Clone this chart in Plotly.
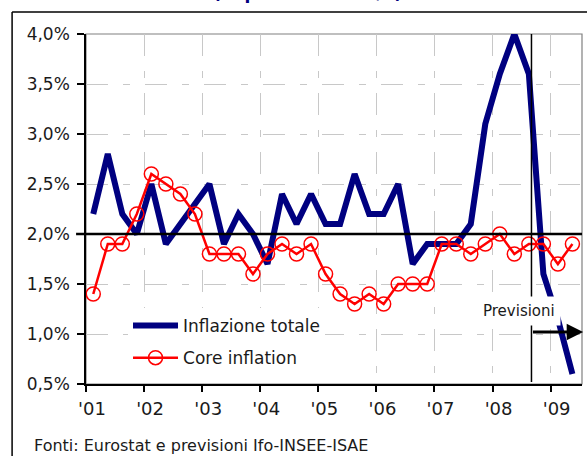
import plotly.graph_objects as go

# ---- data (quarterly, 2001Q1 .. 2009Q2) ----
years = [2001, 2002, 2003, 2004, 2005, 2006, 2007, 2008, 2009]
quarters_per_year = [4, 4, 4, 4, 4, 4, 4, 4, 2]

inflazione_totale = [
    2.2, 2.8, 2.2, 2.0,
    2.5, 1.9, 2.1, 2.3,
    2.5, 1.9, 2.2, 2.0,
    1.7, 2.4, 2.1, 2.4,
    2.1, 2.1, 2.6, 2.2,
    2.2, 2.5, 1.7, 1.9,
    1.9, 1.9, 2.1, 3.1,
    3.6, 4.0, 3.6, 1.6,
    1.15, 0.6,
]
core_inflation = [
    1.4, 1.9, 1.9, 2.2,
    2.6, 2.5, 2.4, 2.2,
    1.8, 1.8, 1.8, 1.6,
    1.8, 1.9, 1.8, 1.9,
    1.6, 1.4, 1.3, 1.4,
    1.3, 1.5, 1.5, 1.5,
    1.9, 1.9, 1.8, 1.9,
    2.0, 1.8, 1.9, 1.9,
    1.7, 1.9,
]

x_tick_vals = [2001, 2002, 2003, 2004, 2005, 2006, 2007, 2008, 2009]
x_tick_text = ["'01", "'02", "'03", "'04", "'05", "'06", "'07", "'08", "'09"]
y_tick_vals = [0.5, 1.0, 1.5, 2.0, 2.5, 3.0, 3.5, 4.0]
y_tick_text = ["0,5%", "1,0%", "1,5%", "2,0%", "2,5%", "3,0%", "3,5%", "4,0%"]

reference_level = 2.0
forecast_start = 2008.67
arrow_level = 1.02

# quarter mid-points on a numeric year axis
x_q = []
for y, n in zip(years, quarters_per_year):
    for q in range(1, n + 1):
        x_q.append(y + (q - 0.5) / 4)

FONT = "DejaVu Sans"
NAVY = "#000080"
RED = "#FF0000"

fig = go.Figure()
fig.add_trace(go.Scatter(
    x=x_q, y=inflazione_totale, mode="lines", name="Inflazione totale",
    line=dict(color=NAVY, width=6), cliponaxis=False, legendgroup="a",
))
fig.add_trace(go.Scatter(
    x=x_q, y=core_inflation, mode="lines+markers", name="Core inflation",
    line=dict(color=RED, width=2.5),
    marker=dict(symbol="circle-open", size=14, color=RED, line=dict(width=1.5, color=RED)),
    legendgroup="b",
))

grid_dash = "22px,15px,7px,15px"
fig.update_xaxes(
    range=[2001, 2009.54], tickvals=x_tick_vals, ticktext=x_tick_text,
    showgrid=True, gridcolor="#C8C8C8", gridwidth=1, griddash=grid_dash,
    showline=True, linecolor="black", linewidth=1.5,
    ticks="outside", ticklen=6, tickcolor="black", tickwidth=1.5,
    ticklabelshift=6, ticklabelstandoff=2,
    tickfont=dict(family=FONT, size=18, color="#1a1a1a"), zeroline=False,
)
fig.update_yaxes(
    range=[0.5, 4.0], tickvals=y_tick_vals, ticktext=y_tick_text,
    showgrid=True, gridcolor="#C8C8C8", gridwidth=1, griddash=grid_dash,
    showline=True, linecolor="black", linewidth=1.5,
    ticks="outside", ticklen=7, tickcolor="black", tickwidth=1.5,
    ticklabelstandoff=4,
    tickfont=dict(family=FONT, size=17, color="#1a1a1a"), zeroline=False,
)

shapes = [
    # plot-area border (gray)
    dict(type="rect", xref="paper", yref="paper", x0=0, x1=1, y0=0, y1=1,
         line=dict(color="#808080", width=1.2), layer="below"),
    # 2% reference line
    dict(type="line", xref="paper", yref="y", x0=-0.02, x1=1, y0=reference_level, y1=reference_level,
         line=dict(color="black", width=2.5)),
    # forecast start vertical
    dict(type="line", xref="x", yref="y", x0=forecast_start, x1=forecast_start, y0=0.52, y1=4.0,
         line=dict(color="black", width=1.5)),
    # outer frame (top and left)
    dict(type="line", xref="paper", yref="paper", x0=-0.149, x1=1.02, y0=1.0629, y1=1.0629,
         line=dict(color="black", width=1.5)),
    dict(type="line", xref="paper", yref="paper", x0=-0.149, x1=-0.149, y0=1.0629, y1=-0.25,
         line=dict(color="black", width=1.5)),
]

annotations = [
    dict(text="(in percentuale a/a)", xref="paper", yref="paper", x=0.4468, y=1.083,
         xanchor="center", yanchor="bottom", showarrow=False,
         font=dict(family=FONT, size=17, color=NAVY, weight="bold")),
    dict(text="Previsioni", xref="x", yref="y", x=2008.46, y=1.23,
         xanchor="center", yanchor="middle", showarrow=False, bgcolor="white", borderpad=5,
         font=dict(family=FONT, size=15, color="#1a1a1a")),
    dict(text="", xref="x", yref="y", x=2009.56, y=arrow_level,
         axref="x", ayref="y", ax=forecast_start, ay=arrow_level,
         showarrow=True, arrowhead=2, arrowsize=1.1, arrowwidth=3, arrowcolor="black"),
    dict(text="Fonti: Eurostat e previsioni Ifo-INSEE-ISAE", xref="paper", yref="paper",
         x=-0.1083, y=-0.1763, xanchor="left", yanchor="middle", showarrow=False,
         font=dict(family=FONT, size=16, color="#1a1a1a")),
]

fig.update_layout(
    width=587, height=456,
    margin=dict(l=86, r=5, t=34, b=72, pad=0),
    paper_bgcolor="white", plot_bgcolor="white",
    showlegend=True,
    legend=dict(
        x=0.0847, y=0.217, xanchor="left", yanchor="top",
        bgcolor="white", borderwidth=0, traceorder="grouped", tracegroupgap=7,
        font=dict(family=FONT, size=17, color="#1a1a1a"), itemwidth=45,
    ),
    shapes=shapes, annotations=annotations,
)

fig.write_html(
    "out.html",
    config={"displayModeBar": False},
    post_script="document.body.style.margin='0px';document.body.style.overflow='hidden';",
)
